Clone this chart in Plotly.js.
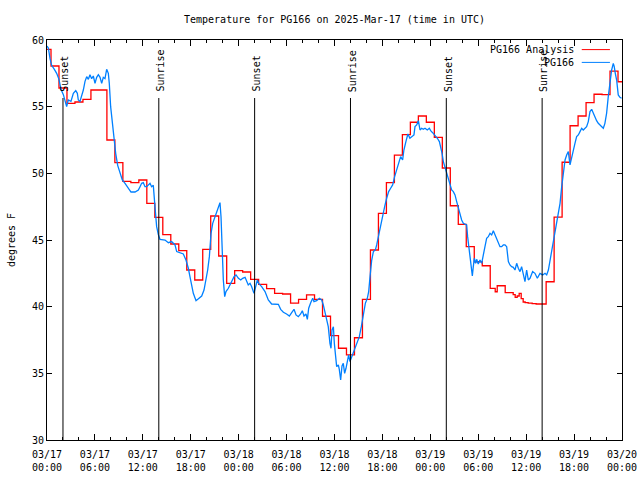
<!DOCTYPE html>
<html>
<head>
<meta charset="utf-8">
<script src="https://cdn.plot.ly/plotly-3.0.1.min.js"></script>
<style>html,body{margin:0;padding:0;background:#fff;}#chart{width:640px;height:480px;}</style>
</head>
<body>
<div id="chart"></div>
<script>
// Hours after 2025-03-17 00:00 UTC
var analysisHours = [0,1,2,3,4,5,6,7,8,9,10,11,12,13,14,15,16,17,18,19,20,21,22,23,24,25,26,27,28,29,30,31,32,33,34,35,36,37,38,39,40,41,42,43,44,45,46,47,48,49,50,51,52,53,54,55,
  56,56.25,56.5,56.75,57,57.25,57.5,57.75,58,58.25,58.5,58.75,59,59.25,59.5,59.75,60,60.5,61,61.5,
  62,63,64,65,66,67,68,69,70,71,72];
var analysisTemp = [59.3,58.05,56.4,55.25,55.35,55.55,56.25,56.25,52.5,50.8,49.4,49.3,49.5,47.75,46.7,45.4,44.7,44.2,42.75,42.0,44.3,46.8,43.8,41.75,42.7,42.6,42.05,41.67,41.35,41.0,40.95,40.27,40.55,40.88,40.55,39.28,37.83,36.88,36.38,37.67,40.55,44.25,47.0,49.3,51.37,52.9,53.83,54.3,53.83,52.7,50.4,47.57,46.17,44.5,43.37,43.07,
  41.37,41.12,41.57,41.57,41.57,41.57,41.05,41.05,41.05,41.05,40.9,40.7,40.8,41.0,40.6,40.35,40.3,40.27,40.23,40.2,
  40.2,41.87,46.72,50.83,53.57,54.3,55.3,55.93,55.9,57.67,56.87];

var obsHours = [0.0,0.17,0.38,0.58,0.92,1.21,1.5,1.75,2.05,2.25,2.46,2.67,3.0,3.3,3.6,3.8,3.92,4.13,4.34,4.55,4.76,4.97,5.18,5.38,5.59,5.8,6.01,6.22,6.43,6.64,6.85,7.05,7.26,7.47,7.68,7.8,7.97,8.18,8.39,8.6,8.85,9.14,9.43,9.77,10.18,10.52,11.02,11.44,11.65,11.85,12.06,12.27,12.48,12.69,12.9,13.1,13.31,13.52,13.73,13.94,
  14.15,14.78,15.2,15.6,16.03,16.24,16.65,17.07,17.4,17.7,17.9,18.1,18.32,18.66,19.07,19.37,19.66,19.91,20.12,20.33,20.54,20.75,21.04,21.25,21.45,21.66,21.79,21.91,22.08,22.25,22.41,22.71,23.0,23.25,23.42,23.67,23.97,24.26,24.5,24.8,25.0,25.2,25.42,25.63,25.92,26.17,26.34,26.5,26.88,27.3,27.71,28.13,28.55,28.97,29.26,
  29.6,30.0,30.35,30.64,30.93,31.18,31.47,31.76,31.97,32.18,32.43,32.6,32.77,33.02,33.27,33.43,33.77,34.1,34.4,34.6,34.81,35.02,35.22,35.43,35.56,35.69,35.86,35.98,36.15,36.27,36.48,36.6,36.77,36.94,37.1,37.27,37.44,37.6,37.77,37.94,38.1,38.36,38.61,38.86,39.11,39.36,39.61,39.86,40.11,40.28,40.45,40.66,40.87,41.12,41.28,41.53,41.78,42.03,42.28,42.53,42.78,43.03,43.28,43.53,43.78,44.03,44.28,44.53,44.69,44.94,45.19,45.44,45.7,45.95,
  46.08,46.29,46.5,46.71,46.91,47.12,47.33,47.62,47.87,48.04,48.29,48.58,48.88,49.13,49.3,49.47,49.63,49.84,50.05,50.25,50.46,50.67,50.88,51.09,51.3,51.5,51.71,51.92,52.13,52.34,52.55,52.67,52.8,52.97,53.13,53.26,53.38,53.51,53.67,53.8,54.0,54.22,54.43,54.63,54.84,55.05,55.26,55.47,55.68,55.89,56.1,56.3,56.51,56.72,56.93,57.14,57.35,57.56,57.77,57.97,58.18,58.39,58.6,58.81,59.02,59.23,59.43,59.64,59.85,60.06,60.27,
  60.48,60.81,61.1,61.4,61.73,62.07,62.36,62.57,62.78,62.99,63.2,63.4,63.61,63.82,64.03,64.24,64.45,64.66,64.87,65.07,65.28,65.49,65.7,65.9,66.11,66.32,66.53,66.74,66.95,67.15,67.36,67.57,67.78,67.99,68.2,68.41,68.61,68.82,69.03,69.24,69.45,69.66,69.86,70.07,70.28,70.49,70.7,70.91,71.03,71.16,71.33,71.53,71.74,71.95];
var obsTemp = [59.55,59.4,58.6,58.1,57.8,57.5,57.05,56.3,55.9,55.4,55.0,55.5,55.4,56.0,56.2,56.0,55.5,55.4,55.75,56.25,56.9,57.25,57.05,57.4,57.1,57.3,56.75,57.2,57.4,57.2,56.75,57.2,57.1,57.8,57.5,56.75,55.0,53.75,52.5,51.5,50.6,50.0,49.5,49.25,48.9,48.6,48.6,48.75,49.0,49.25,49.3,49.0,49.0,49.1,49.25,49.0,49.1,47.5,46.0,45.4,
  45.05,45.0,44.8,44.88,44.63,44.13,44.05,43.95,43.5,42.88,42.25,41.63,41.0,40.45,40.63,40.8,41.25,42.0,42.75,43.75,45.5,46.25,46.75,47.0,47.38,47.8,46.75,44.5,42.0,40.75,41.13,41.38,41.75,42.0,42.25,42.38,42.13,42.0,42.13,42.2,41.88,41.63,41.75,41.5,41.0,41.5,42.0,41.75,41.5,41.13,40.5,40.2,40.2,40.18,39.8,
  39.58,39.45,39.3,39.55,39.8,39.38,39.25,39.45,39.7,39.3,39.45,39.05,39.88,40.3,40.63,40.38,40.45,40.63,40.5,40.13,39.63,39.13,38.5,37.25,36.88,38.25,38.5,37.25,36.25,35.5,35.63,35.3,34.5,35.55,35.75,35.0,35.38,36.0,36.38,35.88,36.13,36.5,37.0,37.38,37.75,38.5,39.5,40.25,40.63,41.13,42.25,43.5,44.13,44.25,44.63,45.38,46.13,47.0,47.5,48.13,48.63,48.88,49.13,49.75,50.25,50.63,51.25,51.0,51.75,52.38,52.95,52.63,52.8,52.88,
  53.5,53.63,53.95,53.25,53.38,53.3,53.38,53.25,53.38,53.2,53.05,52.88,52.63,52.38,52.0,51.5,50.88,50.45,50.0,49.5,49.05,48.75,48.63,48.38,47.88,47.38,46.88,46.5,46.25,46.2,46.13,45.25,44.5,44.0,43.0,42.3,43.0,43.63,43.25,43.55,43.2,43.5,43.25,43.75,44.5,45.13,45.25,45.5,45.38,45.7,45.38,45.13,44.88,44.5,44.5,44.63,44.63,44.5,43.38,43.13,43.0,42.95,42.75,43.25,42.88,42.63,43.0,42.5,41.88,42.75,42.0,
  42.13,42.63,42.5,42.13,42.5,42.38,42.5,42.38,42.75,43.5,44.25,45.0,45.75,46.5,47.0,47.75,49.0,50.13,51.0,51.38,51.63,50.63,51.25,51.75,52.25,52.75,52.88,53.13,53.38,53.25,53.38,53.5,53.88,54.63,54.8,54.5,54.13,53.95,53.75,53.63,53.45,53.38,53.75,54.5,55.75,57.0,57.75,58.25,58.0,57.5,57.0,55.88,55.7,55.63];

var eventHours = [2, 14, 26, 38, 50, 62];
var eventLabels = ['Sunset', 'Sunrise', 'Sunset', 'Sunrise', 'Sunset', 'Sunrise'];
var seriesNames = ['PG166 Analysis', 'PG166'];
var seriesColors = ['#ff0000', '#0080ff'];

function toDate(h) {
  var ms = Date.UTC(2025, 2, 17) + Math.round(h * 3600000);
  return new Date(ms).toISOString().slice(0, 19).replace('T', ' ');
}

var FONT = {family: 'DejaVu Sans Mono, Liberation Mono, monospace', size: 10, color: '#000'};

var traces = [
  {x: analysisHours.map(toDate), y: analysisTemp, type: 'scatter', mode: 'lines', name: seriesNames[0],
   line: {color: seriesColors[0], width: 1.3, shape: 'hvh'}, hoverinfo: 'skip'},
  {x: obsHours.map(toDate), y: obsTemp, type: 'scatter', mode: 'lines', name: seriesNames[1],
   line: {color: seriesColors[1], width: 1.3}, hoverinfo: 'skip'}
];

var shapes = [];
var annotations = [];
eventHours.forEach(function (h, i) {
  shapes.push({type: 'line', xref: 'x', yref: 'paper', x0: toDate(h), x1: toDate(h), y0: 0, y1: 0.855,
               line: {color: '#000', width: 1}});
  annotations.push({xref: 'x', yref: 'paper', x: toDate(h), y: 0.868, text: eventLabels[i], textangle: -90,
                    showarrow: false, xanchor: 'center', yanchor: 'bottom', font: FONT, borderpad: 0, xshift: 2});
});
// key (text then line sample, gnuplot style)
var keyY = [0.976, 0.944];
seriesNames.forEach(function (n, i) {
  annotations.push({xref: 'paper', yref: 'paper', x: 0.918, y: keyY[i], text: n, showarrow: false,
                    xanchor: 'right', yanchor: 'middle', font: FONT, borderpad: 0});
  shapes.push({type: 'line', xref: 'paper', yref: 'paper', x0: 0.930, x1: 0.979, y0: keyY[i], y1: keyY[i],
               line: {color: seriesColors[i], width: 1}});
});

var layout = {
  width: 640, height: 480,
  margin: {l: 47, r: 18, t: 40, b: 40, pad: 0},
  paper_bgcolor: '#fff', plot_bgcolor: '#fff',
  showlegend: false,
  font: FONT,
  title: {text: 'Temperature for PG166 on 2025-Mar-17 (time in UTC)', font: FONT,
          x: 0.5, xref: 'paper', xanchor: 'center', y: 1 - 19 / 480, yref: 'container', yanchor: 'middle'},
  xaxis: {
    type: 'date', range: [toDate(0), toDate(72)],
    tick0: toDate(0), dtick: 6 * 3600000, tickformat: '%m/%d<br>%H:%M',
    ticks: 'inside', ticklen: 6, tickwidth: 1, tickcolor: '#000', ticklabelstandoff: 5,
    minor: {dtick: 2 * 3600000, tick0: toDate(0), ticks: 'inside', ticklen: 3, tickcolor: '#000', tickwidth: 1, showgrid: false},
    showline: true, linecolor: '#000', linewidth: 1, mirror: 'ticks',
    showgrid: false, zeroline: false, tickfont: FONT, fixedrange: true
  },
  yaxis: {
    range: [30, 60], dtick: 5, tick0: 30,
    ticks: 'inside', ticklen: 5, tickwidth: 1, tickcolor: '#000',
    showline: true, linecolor: '#000', linewidth: 1, mirror: 'ticks',
    showgrid: false, zeroline: false, tickfont: FONT,
    title: {text: 'degrees F', font: FONT, standoff: 14},
    automargin: false, fixedrange: true
  },
  shapes: shapes,
  annotations: annotations
};

Plotly.newPlot('chart', traces, layout, {staticPlot: true, displayModeBar: false});
</script>
</body>
</html>
